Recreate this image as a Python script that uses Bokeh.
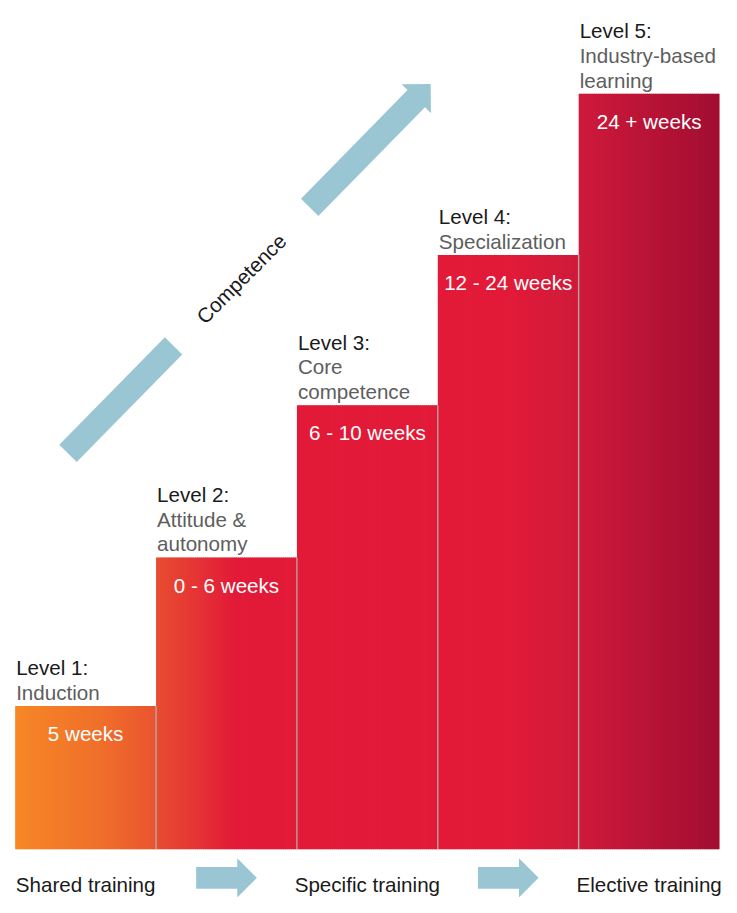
import numpy as np
from bokeh.plotting import figure
from bokeh.models import Range1d, ColumnDataSource
from bokeh.embed import file_html
from bokeh.resources import INLINE
from bokeh.core.properties import value

# ---------------- data ----------------
levels = ["Level 1:", "Level 2:", "Level 3:", "Level 4:", "Level 5:"]
subtitles = ["Induction", "Attitude &\nautonomy", "Core\ncompetence",
             "Specialization", "Industry-based\nlearning"]
durations = ["5 weeks", "0 - 6 weeks", "6 - 10 weeks", "12 - 24 weeks", "24 + weeks"]
heights = [146, 297, 452, 605, 769]          # step height (competence)
stages = ["Shared training", "Specific training", "Elective training"]
stage_bar = [0, 2, 4]                         # bar under which each stage sits
axis_word = "Competence"

# ---------------- layout / style ----------------
W, H = 721, 897                 # figure size (fits the 737x913 window with 8px margin)
REF_W, REF_H = 737.0, 913.0     # reference canvas that the layout is measured on
PX = 144.0                      # reference pixels per bar
X0 = 15.0                       # reference x of first bar left edge
BASE = 864.0                    # reference y of bar bottoms
FONT = value("Liberation Sans")
FS = value("20.6px")
ARROW = "#9AC6D3"

def ux(ix):
    return (ix - X0) / PX

def uy(iy):
    return BASE - iy

p = figure(width=W, height=H, output_backend="svg", toolbar_location=None,
           x_range=Range1d(ux(0), ux(REF_W)), y_range=Range1d(uy(REF_H), uy(0)),
           min_border=0)
p.xaxis.visible = False
p.yaxis.visible = False
p.grid.grid_line_color = None
p.outline_line_color = None
p.background_fill_color = "white"
p.border_fill_color = "white"

# horizontal colour gradient (reference x -> colour)
stops_x = [15, 100, 157, 160, 240, 520, 590, 735]
stops_c = ["#F68726", "#F0702A", "#EA552F", "#E84D31", "#E21A38", "#E21A38",
           "#CF1A3A", "#A20D32"]

def hex2rgb(h):
    h = h.lstrip("#")
    return [int(h[i:i + 2], 16) for i in (0, 2, 4)]

rgb = np.array([hex2rgb(c) for c in stops_c], dtype=float)

def grad(ix):
    r = np.interp(ix, stops_x, rgb[:, 0])
    g = np.interp(ix, stops_x, rgb[:, 1])
    b = np.interp(ix, stops_x, rgb[:, 2])
    return "#%02x%02x%02x" % (int(round(r)), int(round(g)), int(round(b)))

# bars drawn as thin gradient strips
L, R, T, B, C = [], [], [], [], []
step = 2.0
for i, h in enumerate(heights):
    left_px = X0 + PX * i
    right_px = left_px + PX
    for x in np.arange(left_px, right_px, step):
        L.append(ux(x))
        R.append(ux(min(x + step + 0.8, right_px)))
        T.append(h)
        B.append(0)
        C.append(grad(x + step / 2))
p.quad(left="l", right="r", top="t", bottom="b", fill_color="c", line_color=None,
       source=ColumnDataSource(dict(l=L, r=R, t=T, b=B, c=C)))

# separators between bars
sx = list(range(1, len(heights)))
sy = [min(heights[i - 1], heights[i]) for i in sx]
p.segment(x0=sx, y0=[0] * len(sx), x1=sx, y1=sy, line_color="#b0b0b0",
          line_alpha=0.8, line_width=1.5)

# level titles and subtitles
GAP = 14
LS = 25
tx, ty, tt = [], [], []
sx2, sy2, st2 = [], [], []
for i, (lv, sub, h) in enumerate(zip(levels, subtitles, heights)):
    lines = sub.split("\n")
    n = 1 + len(lines)
    y_first = h + GAP + LS * (n - 1)
    tx.append(i + 1 / PX)
    ty.append(y_first)
    tt.append(lv)
    for k, ln in enumerate(lines):
        sx2.append(i + 1 / PX)
        sy2.append(y_first - LS * (k + 1))
        st2.append(ln)
p.text(x=tx, y=ty, text=tt, text_font=FONT, text_font_size=FS,
       text_color="#1a1a1a", text_align="left", text_baseline="alphabetic")
p.text(x=sx2, y=sy2, text=st2, text_font=FONT, text_font_size=FS,
       text_color="#5e5e5e", text_align="left", text_baseline="alphabetic")

# durations inside bars
p.text(x=[i + 0.5 for i in range(len(heights))], y=[h - 28 for h in heights],
       text=durations, text_font=FONT, text_font_size=FS, text_color="white",
       text_align="center", text_baseline="alphabetic")

# big diagonal competence arrow (reference pixel geometry)
S = np.array([69.0, 461.0])
E = np.array([425.0, 100.0])
v = E - S
d = v / np.linalg.norm(v)
n = np.array([-d[1], d[0]])
hw, hh, hl = 12.5, 21.0, 21.0
P1 = S + 0.303 * v
P2 = S + 0.694 * v
lower = [S - hw * n, P1 - hw * n, P1 + hw * n, S + hw * n]
upper = [P2 - hw * n, E - hw * n, E - hh * n, E + hl * d, E + hh * n, E + hw * n, P2 + hw * n]
xs_list, ys_list = [], []
for poly in (lower, upper):
    xs_list.append([ux(pt[0]) for pt in poly])
    ys_list.append([uy(pt[1]) for pt in poly])

# small horizontal arrows between stage labels
centers_px = [X0 + PX * (b + 0.5) for b in stage_bar]
AY = 893.0
for a, b in zip(centers_px[:-1], centers_px[1:]):
    mid = (a + b) / 2
    x0, x1 = mid - 31, mid + 31
    poly = [(x0, AY - 11), (x1 - 20, AY - 11), (x1 - 20, AY - 20), (x1, AY),
            (x1 - 20, AY + 20), (x1 - 20, AY + 11), (x0, AY + 11)]
    xs_list.append([ux(pt[0]) for pt in poly])
    ys_list.append([uy(pt[1]) for pt in poly])
p.patches(xs=xs_list, ys=ys_list, fill_color=ARROW, line_color=None)

# competence word along the arrow
p.text(x=[ux(246)], y=[uy(283)], text=[axis_word], angle=np.pi / 4,
       text_font=FONT, text_font_size=FS, text_color="#1a1a1a",
       text_align="center", text_baseline="middle")

# stage labels under the bars
p.text(x=[b + 0.5 for b in stage_bar], y=[uy(900)] * len(stages), text=stages,
       text_font=FONT, text_font_size=FS, text_color="#1a1a1a",
       text_align="center", text_baseline="alphabetic")

open("out.html", "w").write(file_html(p, INLINE))
